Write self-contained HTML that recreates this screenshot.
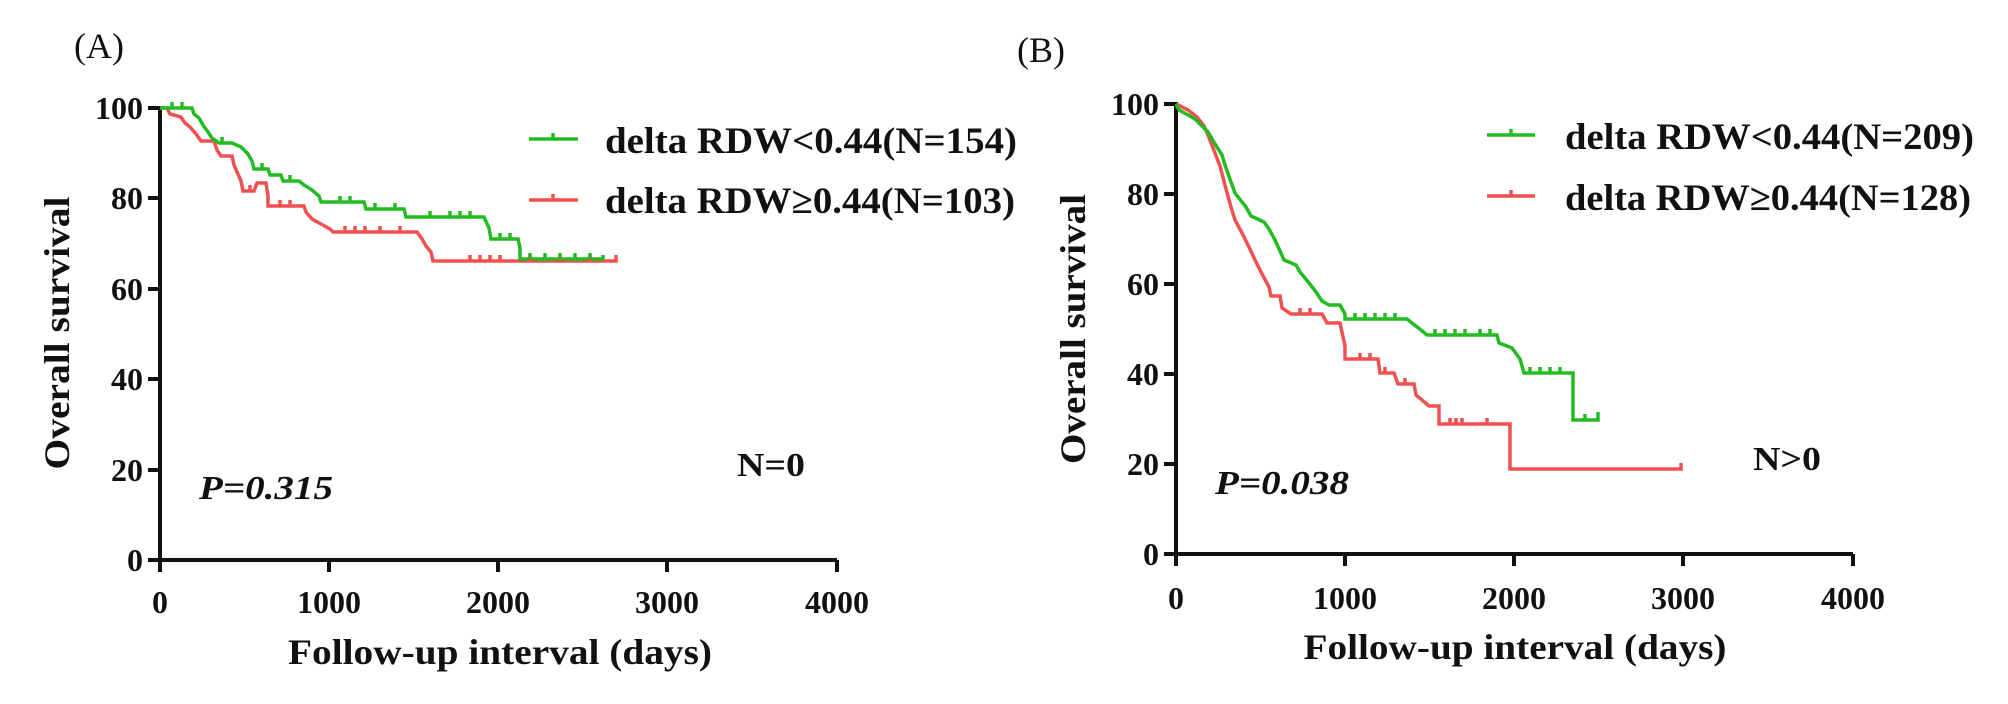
<!DOCTYPE html>
<html><head><meta charset="utf-8"><style>
html,body{margin:0;padding:0;background:#fff;}
svg{display:block;}
text{font-family:"Liberation Serif",serif;fill:#111;}
.b{font-weight:bold;}
</style></head><body>
<svg width="2008" height="704" viewBox="0 0 2008 704" xmlns="http://www.w3.org/2000/svg">
<!-- Panel A -->
<text x="74" y="58" font-size="36">(A)</text>
<g stroke="#111" stroke-width="4" fill="none">
<path d="M160,106 V560 H837"/>
<path d="M148,108 H160 M148,198 H160 M148,289 H160 M148,379 H160 M148,470 H160 M148,560 H160"/>
<path d="M160,560 V572 M329,560 V572 M498,560 V572 M667,560 V572 M837,560 V572"/>
</g>
<g font-size="32" text-anchor="end">
<text x="143" y="119" class="b">100</text><text x="143" y="209" class="b">80</text><text x="143" y="300" class="b">60</text><text x="143" y="390" class="b">40</text><text x="143" y="481" class="b">20</text><text x="143" y="571" class="b">0</text>
</g>
<g font-size="32" text-anchor="middle">
<text x="160" y="613" class="b">0</text><text x="329" y="613" class="b">1000</text><text x="498" y="613" class="b">2000</text><text x="667" y="613" class="b">3000</text><text x="837" y="613" class="b">4000</text>
</g>
<text x="500" y="664" font-size="36" class="b" text-anchor="middle" textLength="424" lengthAdjust="spacingAndGlyphs">Follow-up interval (days)</text>
<text transform="translate(69,333) rotate(-90)" font-size="36" class="b" text-anchor="middle" textLength="273" lengthAdjust="spacingAndGlyphs">Overall survival</text>
<text x="199" y="499" font-size="34" class="b" font-style="italic" textLength="134" lengthAdjust="spacingAndGlyphs">P=0.315</text>
<text x="737" y="476" font-size="34" class="b" textLength="68" lengthAdjust="spacingAndGlyphs">N=0</text>
<g stroke-width="3.5" fill="none">
<path stroke="#f05050" d="M160,108 L167,108 L170,114 L181,117 L185,123 L190,127 L196,134 L201,141 L214,141 L217,150 L221,156 L232,156 L234,165 L237,172 L241,181 L243,191 L254,191 L257,183 L266,183 L268,196 L268,206 L304,206 L306,212 L312,219 L321,224 L330,229 L333,232 L417,232 L422,239 L426,246 L431,252 L433,261 L616,261 L616,255"/>
<path stroke="#22bb22" d="M160,108 L192,108 L194,114 L199,118 L203,125 L208,132 L212,138 L219,143 L232,143 L241,147 L248,154 L252,161 L254,169 L268,169 L270,175 L281,175 L283,181 L299,181 L304,185 L312,190 L319,196 L321,202 L364,202 L366,209 L404,209 L406,217 L484,217 L489,228 L491,239 L518,239 L520,248 L520,259 L603,259 L603,255"/>
<path stroke="#f05050" d="M250,191v-6 M280,206v-6 M290,206v-6 M345,232v-6 M355,232v-6 M365,232v-6 M380,232v-6 M400,232v-6 M470,261v-6 M480,261v-6 M490,261v-6 M500,261v-6 M530,261v-6 M560,261v-6 M590,261v-6"/>
<path stroke="#22bb22" d="M172,108v-6 M182,108v-6 M222,143v-6 M262,169v-6 M290,181v-6 M340,202v-6 M350,202v-6 M375,209v-6 M395,209v-6 M430,217v-6 M450,217v-6 M460,217v-6 M470,217v-6 M500,239v-6 M510,239v-6 M530,259v-6 M545,259v-6 M560,259v-6 M575,259v-6 M590,259v-6"/>
</g>
<path d="M529,139 H578 M553,139 v-6" stroke="#22bb22" stroke-width="3.5"/>
<path d="M529,200 H578 M553,200 v-6" stroke="#f05050" stroke-width="3.5"/>
<text x="605" y="153" font-size="37" class="b" textLength="412" lengthAdjust="spacingAndGlyphs">delta RDW&lt;0.44(N=154)</text>
<text x="605" y="213" font-size="37" class="b" textLength="410" lengthAdjust="spacingAndGlyphs">delta RDW≥0.44(N=103)</text>

<!-- Panel B -->
<text x="1017" y="62" font-size="36">(B)</text>
<g stroke="#111" stroke-width="4" fill="none">
<path d="M1176,102 V554 H1853"/>
<path d="M1164,104 H1176 M1164,194 H1176 M1164,284 H1176 M1164,374 H1176 M1164,464 H1176 M1164,554 H1176"/>
<path d="M1176,554 V566 M1345,554 V566 M1514,554 V566 M1683,554 V566 M1853,554 V566"/>
</g>
<g font-size="32" text-anchor="end">
<text x="1159" y="115" class="b">100</text><text x="1159" y="205" class="b">80</text><text x="1159" y="295" class="b">60</text><text x="1159" y="385" class="b">40</text><text x="1159" y="475" class="b">20</text><text x="1159" y="565" class="b">0</text>
</g>
<g font-size="32" text-anchor="middle">
<text x="1176" y="609" class="b">0</text><text x="1345" y="609" class="b">1000</text><text x="1514" y="609" class="b">2000</text><text x="1683" y="609" class="b">3000</text><text x="1853" y="609" class="b">4000</text>
</g>
<text x="1515" y="659" font-size="36" class="b" text-anchor="middle" textLength="423" lengthAdjust="spacingAndGlyphs">Follow-up interval (days)</text>
<text transform="translate(1085,329) rotate(-90)" font-size="36" class="b" text-anchor="middle" textLength="270" lengthAdjust="spacingAndGlyphs">Overall survival</text>
<text x="1215" y="494" font-size="34" class="b" font-style="italic" textLength="134" lengthAdjust="spacingAndGlyphs">P=0.038</text>
<text x="1753" y="470" font-size="34" class="b" textLength="68" lengthAdjust="spacingAndGlyphs">N&gt;0</text>
<g stroke-width="3.5" fill="none">
<path stroke="#f05050" d="M1176,104 L1188,110 L1197,117 L1204,126 L1208,135 L1213,148 L1220,166 L1226,189 L1231,207 L1235,220 L1242,233 L1249,247 L1255,260 L1262,274 L1269,287 L1271,296 L1280,296 L1282,308 L1291,314 L1322,314 L1327,323 L1340,323 L1345,346 L1345,359 L1378,359 L1380,373 L1394,373 L1398,384 L1414,384 L1416,395 L1429,406 L1439,406 L1439,424 L1510,424 L1510,469 L1681,469 L1681,463"/>
<path stroke="#22bb22" d="M1176,104 L1179,110 L1188,115 L1195,119 L1202,126 L1208,132 L1215,144 L1222,155 L1226,168 L1231,182 L1235,193 L1242,202 L1246,207 L1251,216 L1264,222 L1269,229 L1275,240 L1280,251 L1284,260 L1296,265 L1300,272 L1309,283 L1316,292 L1322,301 L1329,305 L1340,305 L1345,314 L1345,319 L1407,319 L1412,323 L1421,330 L1427,335 L1497,335 L1499,343 L1512,348 L1520,359 L1524,373 L1573,373 L1573,420 L1598,420 L1598,412"/>
<path stroke="#f05050" d="M1300,314v-6 M1310,314v-6 M1360,359v-6 M1370,359v-6 M1385,373v-6 M1405,384v-6 M1450,424v-6 M1456,424v-6 M1462,424v-6 M1487,424v-6"/>
<path stroke="#22bb22" d="M1355,319v-6 M1365,319v-6 M1375,319v-6 M1385,319v-6 M1395,319v-6 M1435,335v-6 M1445,335v-6 M1455,335v-6 M1465,335v-6 M1480,335v-6 M1490,335v-6 M1530,373v-6 M1540,373v-6 M1550,373v-6 M1560,373v-6 M1585,420v-6"/>
</g>
<path d="M1487,135 H1535 M1511,135 v-6" stroke="#22bb22" stroke-width="3.5"/>
<path d="M1487,196 H1535 M1511,196 v-6" stroke="#f05050" stroke-width="3.5"/>
<text x="1565" y="149" font-size="37" class="b" textLength="409" lengthAdjust="spacingAndGlyphs">delta RDW&lt;0.44(N=209)</text>
<text x="1565" y="210" font-size="37" class="b" textLength="406" lengthAdjust="spacingAndGlyphs">delta RDW≥0.44(N=128)</text>
</svg>
</body></html>
